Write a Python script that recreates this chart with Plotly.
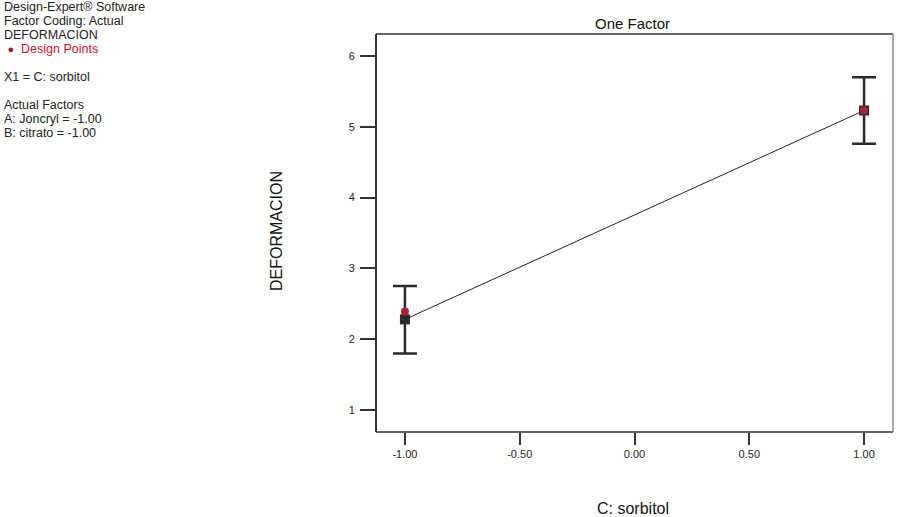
import plotly.graph_objects as go

# factor levels (C: sorbitol, coded) and model prediction with LSD bars
x_levels = [-1.0, 1.0]
predicted = [2.28, 5.23]
lsd_upper = [2.75, 5.70]
lsd_lower = [1.80, 4.76]

# design points (actual observations)
design_x = [-1.0, 1.0]
design_y = [2.39, 5.23]

x_ticks = [-1.0, -0.5, 0.0, 0.5, 1.0]
x_tick_labels = ["-1.00", "-0.50", "0.00", "0.50", "1.00"]
y_ticks = [1, 2, 3, 4, 5, 6]

info_lines = [
    "Design-Expert® Software",
    "Factor Coding: Actual",
    "DEFORMACION",
    "&nbsp;<span style='color:#9b1c2e;font-size:11px'>&#9679;</span>&nbsp; <span style='color:#c8102e'>Design Points</span>",
    "X1 = C: sorbitol",
    "Actual Factors",
    "A: Joncryl = -1.00",
    "B: citrato = -1.00",
]
info_rows = [0, 1, 2, 3, 5, 7, 8, 9]

err_plus = [u - p for u, p in zip(lsd_upper, predicted)]
err_minus = [p - l for p, l in zip(predicted, lsd_lower)]

fig = go.Figure()

# model line
fig.add_trace(go.Scatter(
    x=x_levels, y=predicted, mode="lines",
    line=dict(color="#222222", width=1),
    hoverinfo="skip", showlegend=False
))

# predicted with LSD error bars
fig.add_trace(go.Scatter(
    x=x_levels, y=predicted, mode="markers",
    marker=dict(symbol="square", size=10, color="#2a2a2a"),
    error_y=dict(type="data", array=err_plus, arrayminus=err_minus,
                 color="#2a2a2a", thickness=2.5, width=12),
    showlegend=False
))

# design points
fig.add_trace(go.Scatter(
    x=design_x, y=design_y, mode="markers",
    marker=dict(symbol="circle", size=8, color="#a8223a"),
    showlegend=False
))

W, H = 899, 517
l, r, t, b = 376, 6, 34, 85
pw, ph = W - l - r, H - t - b


def px_x(x):
    return (x - l) / pw


def px_y(y):
    return (H - b - y) / ph


annotations = []
for row, txt in zip(info_rows, info_lines):
    annotations.append(dict(
        text=txt, x=px_x(2), y=px_y(7 + 14 * row), xref="paper", yref="paper",
        xanchor="left", yanchor="middle", align="left", showarrow=False,
        font=dict(size=12.5, color="#222222")))
annotations.append(dict(
    text="One Factor", x=px_x(632.5), y=px_y(23), xref="paper", yref="paper",
    xanchor="center", yanchor="middle", showarrow=False,
    font=dict(size=15, color="#111111")))
annotations.append(dict(
    text="C: sorbitol", x=px_x(633), y=px_y(508), xref="paper", yref="paper",
    xanchor="center", yanchor="middle", showarrow=False,
    font=dict(size=16, color="#111111")))
annotations.append(dict(
    text="DEFORMACION", textangle=-90, x=px_x(276), y=px_y(231),
    xref="paper", yref="paper", xanchor="center", yanchor="middle",
    showarrow=False, font=dict(size=16, color="#111111")))

fig.update_layout(
    width=W, height=H,
    margin=dict(l=l, r=r, t=t, b=b),
    plot_bgcolor="white", paper_bgcolor="white",
    font=dict(family="Liberation Sans, Arial, sans-serif", size=11, color="#222222"),
    xaxis=dict(
        range=[-1.126, 1.126], tickvals=x_ticks, ticktext=x_tick_labels,
        ticks="outside", ticklen=12, tickwidth=2, tickcolor="#333333",
        showgrid=False, zeroline=False, showline=False,
        tickfont=dict(size=11, color="#222222"),
    ),
    yaxis=dict(
        range=[0.69, 6.31], tickvals=y_ticks,
        ticks="outside", ticklen=15, tickwidth=1.5, tickcolor="#333333",
        showgrid=False, zeroline=False, showline=False,
        tickfont=dict(size=11, color="#222222"), ticklabelstandoff=3,
    ),
    annotations=annotations,
    shapes=[
        dict(type="line", xref="x domain", yref="y domain", x0=0, x1=0, y0=0, y1=1,
             line=dict(color="#333333", width=2)),
        dict(type="line", xref="x domain", yref="y domain", x0=0, x1=1, y0=0, y1=0,
             line=dict(color="#333333", width=1.5)),
        dict(type="line", xref="x domain", yref="y domain", x0=0, x1=1, y0=1, y1=1,
             line=dict(color="#333333", width=1.5)),
        dict(type="line", xref="x domain", yref="y domain", x0=1, x1=1, y0=0, y1=1,
             line=dict(color="#888888", width=1.5)),
    ],
)

fig.write_html("out.html", config={"displayModeBar": False},
               post_script="document.body.style.margin='0';")
